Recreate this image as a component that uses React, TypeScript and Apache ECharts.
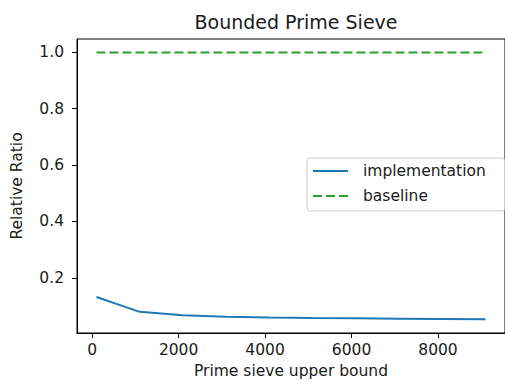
import React, { useEffect, useRef } from "react";
import * as echarts from "echarts";

const xValues = [100, 1100, 2100, 3100, 4100, 5100, 6100, 7100, 8100, 9100];
const implementation = [0.132, 0.079, 0.067, 0.062, 0.059, 0.057, 0.056, 0.055, 0.054, 0.053];
const baseline = [1, 1, 1, 1, 1, 1, 1, 1, 1, 1];
const xTicks = [0, 2000, 4000, 6000, 8000];
const yTicks = [0.2, 0.4, 0.6, 0.8, 1.0];

const FONT = "DejaVu Sans";
const TXT = "#1a1a1a";
const FS = 15.5;

export default function App() {
  const ref = useRef<HTMLDivElement>(null);
  useEffect(() => {
    if (!ref.current) return;
    const chart = echarts.init(ref.current, null, { renderer: "svg" });
    chart.setOption({
      animation: false,
      backgroundColor: "#ffffff",
      title: {
        text: "Bounded Prime Sieve",
        left: 291,
        textAlign: "center",
        top: 7,
        textStyle: { fontFamily: FONT, fontSize: 19, fontWeight: "normal", color: TXT },
      },
      grid: {
        left: 77,
        right: -5,
        top: 39,
        bottom: 51,
        show: true,
        borderColor: "#000",
        borderWidth: 1,
        backgroundColor: "transparent",
      },
      legend: {
        left: 307,
        top: 158,
        orient: "vertical",
        itemWidth: 35,
        itemHeight: 14,
        itemGap: 9,
        padding: [5, 19, 7, 5],
        backgroundColor: "rgba(255,255,255,0.8)",
        borderColor: "#cccccc",
        borderWidth: 1,
        borderRadius: 3,
        itemStyle: { opacity: 0 },
        textStyle: { fontFamily: FONT, fontSize: FS, color: TXT, padding: [0, 0, 0, 10] },
        data: ["implementation", "baseline"],
      },
      xAxis: {
        type: "value",
        min: -350,
        max: 9550,
        name: "Prime sieve upper bound",
        nameLocation: "middle",
        nameGap: 30,
        nameTextStyle: { fontFamily: FONT, fontSize: FS, color: TXT },
        axisLine: { show: true, onZero: false, lineStyle: { color: "#000", width: 1 } },
        axisTick: { show: true, length: 5, customValues: xTicks, lineStyle: { color: "#000" } },
        axisLabel: {
          customValues: xTicks,
          margin: 9,
          fontFamily: FONT,
          fontSize: FS,
          color: TXT,
          formatter: (v: number) => String(v),
        },
        splitLine: { show: false },
      },
      yAxis: {
        type: "value",
        min: 0.004,
        max: 1.0475,
        name: "Relative Ratio",
        nameLocation: "middle",
        nameGap: 52,
        nameRotate: 90,
        nameTextStyle: { fontFamily: FONT, fontSize: FS, color: TXT },
        axisLine: { show: true, onZero: false, lineStyle: { color: "#000", width: 1 } },
        axisTick: { show: true, length: 5, customValues: yTicks, lineStyle: { color: "#000" } },
        axisLabel: {
          customValues: yTicks,
          margin: 13,
          fontFamily: FONT,
          fontSize: FS,
          color: TXT,
          formatter: (v: number) => v.toFixed(1),
        },
        splitLine: { show: false },
      },
      series: [
        {
          name: "implementation",
          type: "line",
          data: xValues.map((x, i) => [x, implementation[i]]),
          symbol: "none",
          lineStyle: { color: "#1f77b4", width: 2 },
          itemStyle: { color: "#1f77b4" },
        },
        {
          name: "baseline",
          type: "line",
          data: xValues.map((x, i) => [x, baseline[i]]),
          symbol: "none",
          lineStyle: { color: "#2ca02c", width: 2, type: [9, 4] },
          itemStyle: { color: "#2ca02c" },
        },
      ],
    });
    return () => chart.dispose();
  }, []);
  return (
    <div
      ref={ref}
      style={{ position: "absolute", left: 0, top: 0, width: 505, height: 384, overflow: "hidden" }}
    />
  );
}
